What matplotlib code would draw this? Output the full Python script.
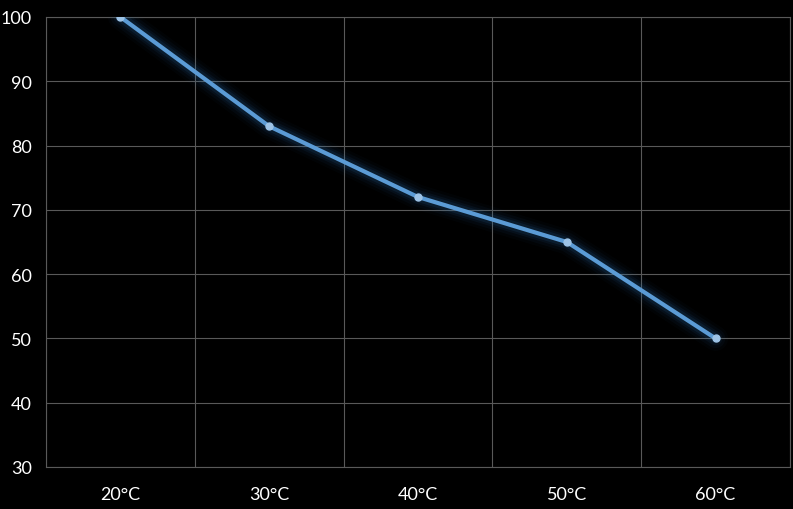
import matplotlib
matplotlib.use("Agg")
import matplotlib.pyplot as plt

categories = ["20°C", "30°C", "40°C", "50°C", "60°C"]
values = [100, 83, 72, 65, 50]
yticks = [30, 40, 50, 60, 70, 80, 90, 100]

plt.rcParams['font.family'] = ['Lato', 'DejaVu Sans']

fig = plt.figure(figsize=(7.93, 5.10), dpi=100, facecolor='black')
ax = fig.add_axes([46/793, 1 - 468/510, (790-46)/793, (468-18)/510])
ax.set_facecolor('black')

x = list(range(len(categories)))
# glow
for lw, a in [(18, 0.03), (14, 0.05), (10, 0.08), (7, 0.12)]:
    ax.plot(x, values, color='#2e75b6', lw=lw, alpha=a, solid_capstyle='round', solid_joinstyle='round', zorder=3)
ax.plot(x, values, color='#5b9bd5', lw=3, solid_capstyle='round', solid_joinstyle='round', zorder=4)
ax.plot(x, values, linestyle='none', marker='o', markersize=5, markerfacecolor='#9dc3e6', markeredgecolor='#9dc3e6', zorder=5)

ax.set_xlim(-0.5, len(categories) - 0.5)
ax.set_ylim(30, 100)
ax.set_yticks(yticks)
ax.set_xticks(x)
ax.set_xticklabels(categories)
ax.set_xticks([i + 0.5 for i in range(-1, len(categories))], minor=True)

gc = '#595959'
ax.grid(True, which='major', axis='y', color=gc, lw=0.8)
ax.grid(True, which='minor', axis='x', color=gc, lw=0.8)
ax.set_axisbelow(True)
for s in ax.spines.values():
    s.set_color(gc)
    s.set_linewidth(0.8)

ax.tick_params(axis='both', which='both', length=0, colors='white', labelsize=13)
ax.tick_params(axis='y', pad=10)
ax.tick_params(axis='x', pad=14)
for lab in ax.get_yticklabels() + ax.get_xticklabels():
    lab.set_color('white')

fig.savefig('out.png', dpi=100, facecolor='black')
